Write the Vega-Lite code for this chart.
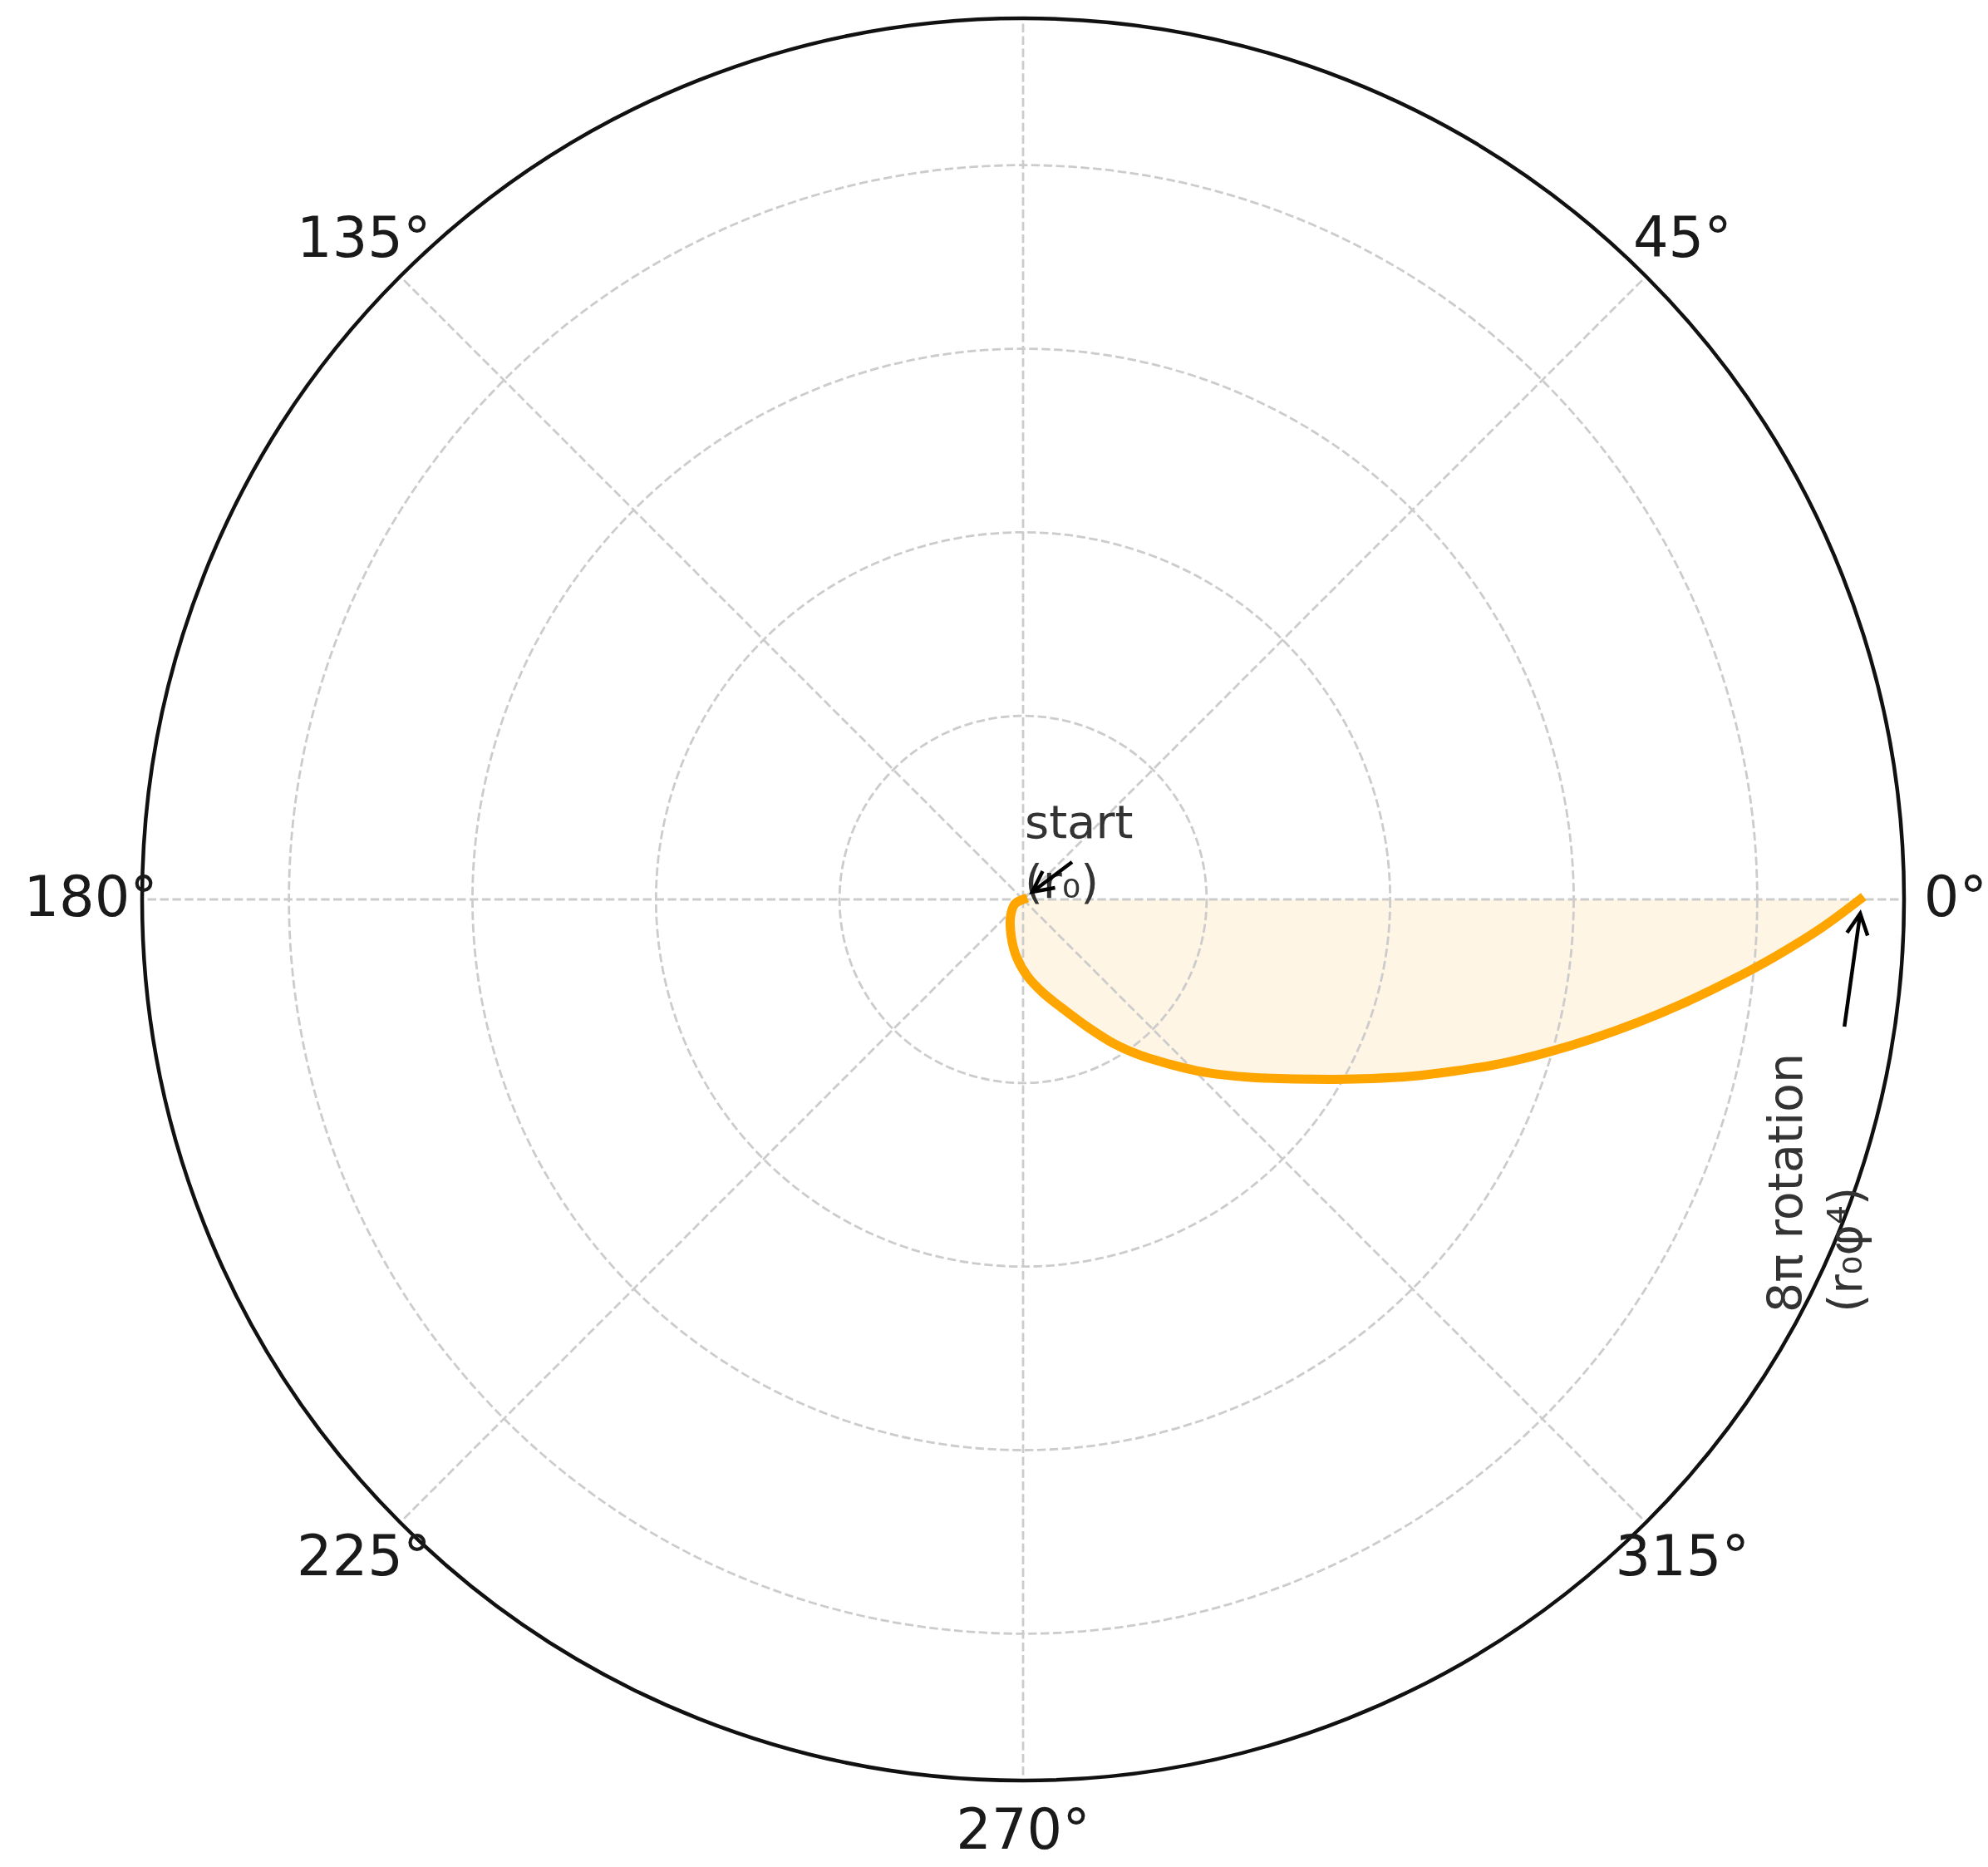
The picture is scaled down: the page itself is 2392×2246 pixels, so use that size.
{
  "$schema": "https://vega.github.io/schema/vega-lite/v6.json",
  "width": 2120,
  "height": 2120,
  "autosize": {"type": "none"},
  "padding": {"left": 171, "top": 22, "right": 101, "bottom": 104},
  "background": "white",
  "config": {"view": {"stroke": null}, "font": "DejaVu Sans"},
  "datasets": {
    "curve": [
      {"theta": 180, "r": 0},
      {"theta": 209.1, "r": 0.0515},
      {"theta": 232.9, "r": 0.1128},
      {"theta": 252.0, "r": 0.2103},
      {"theta": 263.66, "r": 0.3169},
      {"theta": 273.41, "r": 0.4207},
      {"theta": 282.17, "r": 0.5217},
      {"theta": 289.59, "r": 0.6263},
      {"theta": 296.5, "r": 0.771},
      {"theta": 302.18, "r": 0.9275},
      {"theta": 307.02, "r": 1.0646},
      {"theta": 311.62, "r": 1.2},
      {"theta": 315.4, "r": 1.3287},
      {"theta": 318.9, "r": 1.4544},
      {"theta": 322.21, "r": 1.583},
      {"theta": 326.49, "r": 1.7714},
      {"theta": 330.08, "r": 1.9648},
      {"theta": 332.81, "r": 2.136},
      {"theta": 335.32, "r": 2.3111},
      {"theta": 338.3, "r": 2.5292},
      {"theta": 341.01, "r": 2.7497},
      {"theta": 343.67, "r": 2.9698},
      {"theta": 346.23, "r": 3.1918},
      {"theta": 348.69, "r": 3.4163},
      {"theta": 351.08, "r": 3.6441},
      {"theta": 353.41, "r": 3.8756},
      {"theta": 355.68, "r": 4.1117},
      {"theta": 357.96, "r": 4.3528},
      {"theta": 360, "r": 4.56}
    ],
    "rings": [{"r": 1}, {"r": 2}, {"r": 3}, {"r": 4}],
    "frame": [{"r": 4.8}],
    "spokes": [
      {"angle": 0}, {"angle": 45}, {"angle": 90}, {"angle": 135},
      {"angle": 180}, {"angle": 225}, {"angle": 270}, {"angle": 315}
    ],
    "ticks": [
      {"angle": 0, "label": "0°"},
      {"angle": 45, "label": "45°"},
      {"angle": 135, "label": "135°"},
      {"angle": 180, "label": "180°"},
      {"angle": 225, "label": "225°"},
      {"angle": 270, "label": "270°"},
      {"angle": 315, "label": "315°"}
    ],
    "note1": [{"x": 0.009, "y": 0.335, "text": "start\n(r₀)"}],
    "note2": [{"x": 4.244, "y": -2.251, "text": "8π rotation\n(r₀φ⁴)"}],
    "arrows": [
      {"x": 0.267, "y": 0.204, "x2": 0.05, "y2": 0.041},
      {"x": 4.475, "y": -0.693, "x2": 4.561, "y2": -0.077}
    ]
  },
  "layer": [
    {
      "data": {"name": "curve"},
      "transform": [
        {"calculate": "datum.r*cos(datum.theta*PI/180)", "as": "x"},
        {"calculate": "datum.r*sin(datum.theta*PI/180)", "as": "y"}
      ],
      "mark": {"type": "line", "fill": "#FFF5E5", "fillOpacity": 1, "stroke": "#FFF5E5", "strokeWidth": 0, "opacity": 1, "interpolate": "catmull-rom"},
      "encoding": {
        "x": {"field": "x", "type": "quantitative", "scale": {"domain": [-4.8, 4.8], "nice": false, "zero": false}, "axis": null},
        "y": {"field": "y", "type": "quantitative", "scale": {"domain": [-4.8, 4.8], "nice": false, "zero": false}, "axis": null},
        "order": {"field": "theta", "type": "quantitative"}
      }
    },
    {
      "data": {"name": "rings"},
      "transform": [{"calculate": "0", "as": "cx"}],
      "mark": {"type": "point", "shape": "circle", "filled": false, "stroke": "#cccccc", "strokeWidth": 2.8, "strokeDash": [10.4, 4.5], "opacity": 1},
      "encoding": {
        "x": {"field": "cx", "type": "quantitative"},
        "y": {"field": "cx", "type": "quantitative"},
        "size": {"field": "r", "type": "quantitative", "scale": {"type": "pow", "exponent": 2, "domain": [0, 4.8], "range": [0, 4494400], "zero": true}, "legend": null}
      }
    },
    {
      "data": {"name": "spokes"},
      "transform": [
        {"calculate": "0", "as": "cx"},
        {"calculate": "4.8*cos(datum.angle*PI/180)", "as": "xe"},
        {"calculate": "4.8*sin(datum.angle*PI/180)", "as": "ye"}
      ],
      "mark": {"type": "rule", "stroke": "#cccccc", "strokeWidth": 2.8, "strokeDash": [10.4, 4.5]},
      "encoding": {
        "x": {"field": "cx", "type": "quantitative"},
        "y": {"field": "cx", "type": "quantitative"},
        "x2": {"field": "xe"},
        "y2": {"field": "ye"}
      }
    },
    {
      "data": {"name": "curve"},
      "transform": [
        {"calculate": "datum.r*cos(datum.theta*PI/180)", "as": "x"},
        {"calculate": "datum.r*sin(datum.theta*PI/180)", "as": "y"}
      ],
      "mark": {"type": "line", "stroke": "#FFA500", "strokeWidth": 11, "strokeCap": "square", "strokeJoin": "round", "interpolate": "catmull-rom"},
      "encoding": {
        "x": {"field": "x", "type": "quantitative"},
        "y": {"field": "y", "type": "quantitative"},
        "order": {"field": "theta", "type": "quantitative"}
      }
    },
    {
      "data": {"name": "frame"},
      "transform": [{"calculate": "0", "as": "cx"}],
      "mark": {"type": "point", "shape": "circle", "filled": false, "stroke": "#111111", "strokeWidth": 4.5, "opacity": 1},
      "encoding": {
        "x": {"field": "cx", "type": "quantitative"},
        "y": {"field": "cx", "type": "quantitative"},
        "size": {"field": "r", "type": "quantitative", "scale": {"type": "pow", "exponent": 2, "domain": [0, 4.8], "range": [0, 4494400], "zero": true}, "legend": null}
      }
    },
    {
      "data": {"name": "ticks"},
      "transform": [
        {"calculate": "5.08*cos(datum.angle*PI/180)", "as": "x"},
        {"calculate": "5.08*sin(datum.angle*PI/180)", "as": "y"}
      ],
      "mark": {"type": "text", "font": "DejaVu Sans", "fontSize": 67, "fill": "#1a1a1a", "align": "center", "baseline": "middle"},
      "encoding": {
        "x": {"field": "x", "type": "quantitative"},
        "y": {"field": "y", "type": "quantitative"},
        "text": {"field": "label", "type": "nominal"}
      }
    },
    {
      "data": {"name": "note1"},
      "mark": {"type": "text", "font": "DejaVu Sans", "fontSize": 56, "fill": "#333333", "align": "left", "baseline": "alphabetic", "lineBreak": "\n", "lineHeight": 72},
      "encoding": {
        "x": {"field": "x", "type": "quantitative"},
        "y": {"field": "y", "type": "quantitative"},
        "text": {"field": "text", "type": "nominal"}
      }
    },
    {
      "data": {"name": "note2"},
      "mark": {"type": "text", "font": "DejaVu Sans", "fontSize": 57, "fill": "#333333", "align": "left", "baseline": "alphabetic", "angle": 270, "lineBreak": "\n", "lineHeight": 72},
      "encoding": {
        "x": {"field": "x", "type": "quantitative"},
        "y": {"field": "y", "type": "quantitative"},
        "text": {"field": "text", "type": "nominal"}
      }
    },
    {
      "data": {"name": "arrows"},
      "mark": {"type": "rule", "stroke": "#000000", "strokeWidth": 4.5},
      "encoding": {
        "x": {"field": "x", "type": "quantitative"},
        "y": {"field": "y", "type": "quantitative"},
        "x2": {"field": "x2"},
        "y2": {"field": "y2"}
      }
    },
    {
      "data": {"name": "arrows"},
      "transform": [
        {"calculate": "atan2(datum.x2-datum.x, datum.y2-datum.y)*180/PI", "as": "ang"}
      ],
      "mark": {"type": "point", "shape": "M-0.5,1L0,0L0.5,1", "size": 2500, "filled": false, "stroke": "#000000", "strokeWidth": 4.5, "strokeJoin": "miter", "opacity": 1},
      "encoding": {
        "x": {"field": "x2", "type": "quantitative"},
        "y": {"field": "y2", "type": "quantitative"},
        "angle": {"field": "ang", "type": "quantitative", "scale": null}
      }
    }
  ]
}
